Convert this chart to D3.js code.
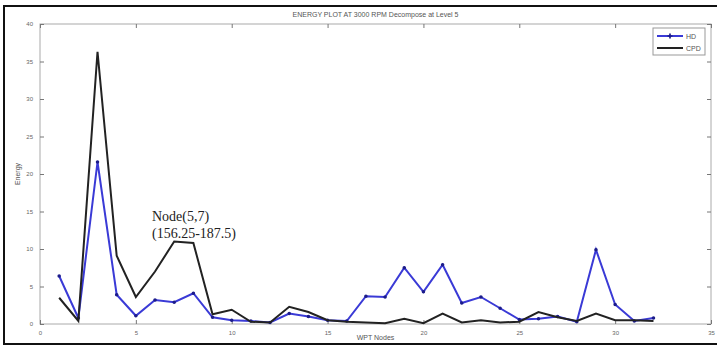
<!DOCTYPE html>
<meta charset="utf-8">
<script src="https://d3js.org/d3.v7.min.js"></script>
<style>
    body { margin: 0; background: #fff; }
    .tick text { font-family: Arial, sans-serif; font-size: 6px; fill: #666; }
    .tick line { stroke: #777; }
    .small-label { font-family: Arial, sans-serif; font-size: 7px; fill: #555; }
</style>
<div id="my_dataviz"></div>
<script>
    // WPT node numbers (x values)
    const nodes = [1, 2, 3, 4, 5, 6, 7, 8, 9, 10, 11, 12, 13, 14, 15, 16,
                   17, 18, 19, 20, 21, 22, 23, 24, 25, 26, 27, 28, 29, 30, 31, 32];
    // HD energy (blue, with markers)
    const hdValues = [6.4, 0.8, 21.6, 3.9, 1.1, 3.2, 2.9, 4.1, 0.9, 0.5, 0.4, 0.2, 1.4, 1.0, 0.5, 0.4,
                      3.7, 3.6, 7.5, 4.3, 7.9, 2.8, 3.6, 2.1, 0.6, 0.7, 1.0, 0.3, 9.9, 2.6, 0.4, 0.8];
    // CPD energy (black)
    const cpdValues = [3.5, 0.4, 36.3, 9.1, 3.6, 7.0, 11.0, 10.8, 1.3, 1.9, 0.3, 0.2, 2.3, 1.6, 0.5, 0.3,
                       0.2, 0.1, 0.7, 0.1, 1.4, 0.2, 0.5, 0.2, 0.3, 1.6, 0.9, 0.4, 1.4, 0.5, 0.5, 0.4];
    const xTicks = [0, 5, 10, 15, 20, 25, 30, 35];
    const yTicks = [0, 5, 10, 15, 20, 25, 30, 35, 40];
    const seriesNames = ["HD", "CPD"];
    const titleText = "ENERGY PLOT AT 3000 RPM Decompose at Level  5";

    const W = 717, H = 347;
    const margin = {top: 24, right: 6, bottom: 23, left: 40},
          width = 711 - margin.left,
          height = 324 - margin.top;

    const svgRoot = d3.select("#my_dataviz")
        .append("svg")
        .attr("width", W)
        .attr("height", H);

    // outer frame
    svgRoot.append("rect")
        .attr("x", 4).attr("y", 6)
        .attr("width", 716).attr("height", 338)
        .style("fill", "none")
        .style("stroke", "#111")
        .style("stroke-width", 2);

    const svg = svgRoot.append("g")
        .attr("transform", `translate(${margin.left},${margin.top})`);

    const x = d3.scaleLinear().domain([0, 35]).range([0, width]);
    const y = d3.scaleLinear().domain([0, 40]).range([height, 0]);

    // box
    svg.append("rect")
        .attr("width", width).attr("height", height)
        .style("fill", "none")
        .style("stroke", "#aaa");

    // axes (ticks inside, mirrored like matlab)
    svg.append("g")
        .attr("transform", `translate(0,${height})`)
        .call(d3.axisBottom(x).tickValues(xTicks).tickSizeInner(-4).tickSizeOuter(0).tickPadding(7))
        .call(g => g.select(".domain").remove());
    svg.append("g")
        .call(d3.axisTop(x).tickValues(xTicks).tickSizeInner(-4).tickSizeOuter(0).tickFormat(""))
        .call(g => g.select(".domain").remove());
    svg.append("g")
        .call(d3.axisLeft(y).tickValues(yTicks).tickSizeInner(-4).tickSizeOuter(0).tickPadding(7))
        .call(g => g.select(".domain").remove());
    svg.append("g")
        .attr("transform", `translate(${width},0)`)
        .call(d3.axisRight(y).tickValues(yTicks).tickSizeInner(-4).tickSizeOuter(0).tickFormat(""))
        .call(g => g.select(".domain").remove());

    const hdData = nodes.map((n, i) => ({x: n, y: hdValues[i]}));
    const cpdData = nodes.map((n, i) => ({x: n, y: cpdValues[i]}));

    const line = d3.line().x(d => x(d.x)).y(d => y(d.y));

    svg.append("path")
        .datum(hdData)
        .attr("d", line)
        .style("fill", "none")
        .style("stroke", "#3a3ad6")
        .style("stroke-width", 2);

    svg.selectAll(".hdMark")
        .data(hdData)
        .join("path")
        .attr("class", "hdMark")
        .attr("transform", d => `translate(${x(d.x)},${y(d.y)})`)
        .attr("d", d3.symbol(d3.symbolCircle, 10))
        .style("fill", "#1c1c8a");

    svg.append("path")
        .datum(cpdData)
        .attr("d", line)
        .style("fill", "none")
        .style("stroke", "#222")
        .style("stroke-width", 2);

    // title and axis labels
    svgRoot.append("text")
        .attr("class", "small-label")
        .attr("x", margin.left + width / 2)
        .attr("y", 17)
        .attr("text-anchor", "middle")
        .text(titleText);

    svgRoot.append("text")
        .attr("class", "small-label")
        .attr("x", margin.left + width / 2)
        .attr("y", 340)
        .attr("text-anchor", "middle")
        .text("WPT Nodes");

    svgRoot.append("text")
        .attr("class", "small-label")
        .attr("transform", "translate(20,174) rotate(-90)")
        .attr("text-anchor", "middle")
        .text("Energy");

    // annotation
    const note = svgRoot.append("text")
        .style("font-family", "'Liberation Serif', 'Times New Roman', serif")
        .style("font-size", "14px")
        .style("fill", "#222");
    note.append("tspan").attr("x", 152).attr("y", 221).text("Node(5,7)");
    note.append("tspan").attr("x", 152).attr("y", 238).text("(156.25-187.5)");

    // legend
    const legend = svgRoot.append("g").attr("transform", "translate(653,28)");
    legend.append("rect")
        .attr("width", 52).attr("height", 27)
        .style("fill", "#fff")
        .style("stroke", "#999");
    const legColors = ["#3a3ad6", "#222"];
    seriesNames.forEach((name, i) => {
        const ly = 8 + i * 12;
        legend.append("line")
            .attr("x1", 4).attr("x2", 30).attr("y1", ly).attr("y2", ly)
            .style("stroke", legColors[i]).style("stroke-width", 2);
        if (i === 0) {
            legend.append("path")
                .attr("transform", `translate(17,${ly})`)
                .attr("d", d3.symbol(d3.symbolCross, 14))
                .style("fill", "#1c1c8a");
        }
        legend.append("text")
            .attr("class", "small-label")
            .attr("x", 33).attr("y", ly + 2.5)
            .text(name);
    });
</script>
